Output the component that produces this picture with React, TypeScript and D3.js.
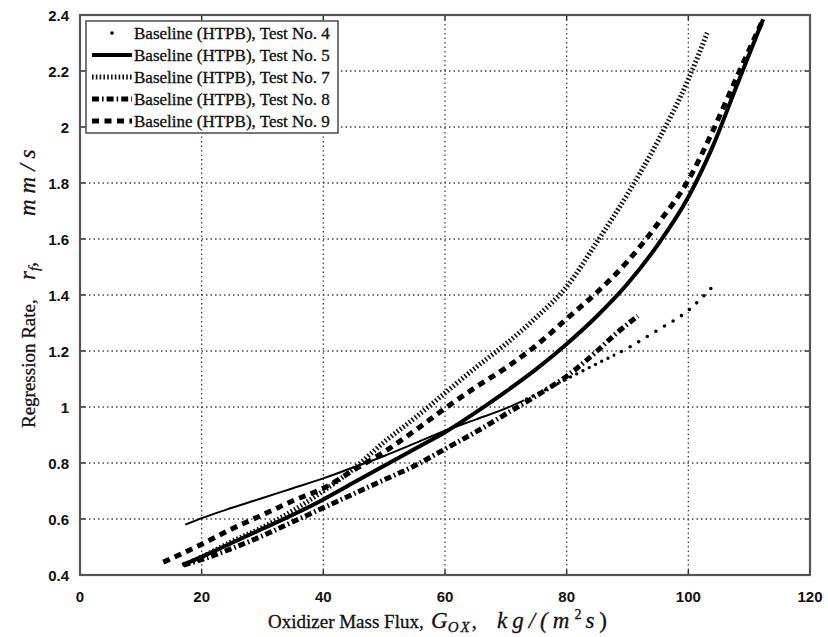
import React from "react";
import * as d3 from "d3";

// ---- data ----
const xTicks = [0, 20, 40, 60, 80, 100, 120];
const yTicks = [0.4, 0.6, 0.8, 1, 1.2, 1.4, 1.6, 1.8, 2, 2.2, 2.4];
const yTickLabels = ["0.4", "0.6", "0.8", "1", "1.2", "1.4", "1.6", "1.8", "2", "2.2", "2.4"];

const legendLabels = [
  "Baseline (HTPB), Test No. 4",
  "Baseline (HTPB), Test No. 5",
  "Baseline (HTPB), Test No. 7",
  "Baseline (HTPB), Test No. 8",
  "Baseline (HTPB), Test No. 9",
];

const test4G = [17.3, 20, 25, 30, 35, 40, 45, 50, 55, 60, 65, 70, 75, 80, 85, 90, 95, 100, 104];
const test4R = [0.58, 0.603, 0.64, 0.675, 0.71, 0.745, 0.785, 0.825, 0.87, 0.915, 0.955, 0.995, 1.045, 1.1, 1.155, 1.21, 1.275, 1.345, 1.43];

const test5G = [16.8, 20, 25, 30, 35, 40, 45, 50, 55, 60, 65, 70, 75, 80, 85, 90, 95, 100, 104, 108, 112.3];
const test5R = [0.436, 0.465, 0.515, 0.565, 0.615, 0.67, 0.73, 0.79, 0.85, 0.91, 0.98, 1.055, 1.135, 1.225, 1.325, 1.44, 1.58, 1.75, 1.93, 2.15, 2.385];

const test7G = [18.5, 20, 25, 30, 35, 40, 45, 50, 55, 60, 65, 70, 75, 80, 85, 90, 95, 100, 103.1];
const test7R = [0.45, 0.465, 0.52, 0.57, 0.63, 0.7, 0.78, 0.875, 0.96, 1.05, 1.14, 1.225, 1.32, 1.43, 1.59, 1.76, 1.95, 2.17, 2.336];

const test8G = [17, 20, 25, 30, 35, 40, 45, 50, 55, 60, 65, 70, 75, 80, 85, 88, 91.7];
const test8R = [0.435, 0.455, 0.495, 0.54, 0.59, 0.64, 0.69, 0.74, 0.79, 0.85, 0.91, 0.975, 1.04, 1.11, 1.2, 1.26, 1.325];

const test9G = [13.7, 20, 25, 30, 35, 40, 45, 50, 55, 60, 65, 70, 75, 80, 85, 90, 95, 100, 104, 108, 112.3];
const test9R = [0.446, 0.51, 0.565, 0.615, 0.665, 0.71, 0.775, 0.84, 0.915, 0.995, 1.07, 1.14, 1.22, 1.315, 1.41, 1.52, 1.655, 1.81, 1.985, 2.18, 2.385];

// ---- layout ----
const W = 828;
const H = 637;
const x = d3.scaleLinear().domain([0, 120]).range([80, 810]);
const y = d3.scaleLinear().domain([0.4, 2.4]).range([575, 15]);

const zip = (g: number[], r: number[]) => g.map((v, i) => [v, r[i]] as [number, number]);
const line = d3
  .line<[number, number]>()
  .x((d) => x(d[0]))
  .y((d) => y(d[1]))
  .curve(d3.curveMonotoneX);

const styles = {
  t5: { stroke: "#000", strokeWidth: 4, dash: undefined as string | undefined },
  t7: { stroke: "#111", strokeWidth: 5, dash: "1.6 2.2" },
  t8: { stroke: "#000", strokeWidth: 5, dash: "7 3 1.6 3" },
  t9: { stroke: "#000", strokeWidth: 5, dash: "7 5.5" },
};

export default function App() {
  const d4 = line(zip(test4G, test4R)) || "";
  const d5 = line(zip(test5G, test5R)) || "";
  const d7 = line(zip(test7G, test7R)) || "";
  const d8 = line(zip(test8G, test8R)) || "";
  const d9 = line(zip(test9G, test9R)) || "";

  const serif = "'Liberation Serif', 'Times New Roman', serif";
  const sans = "'Liberation Sans', Arial, sans-serif";
  const x0 = x(0), x1 = x(120), y0 = y(0.4), y1 = y(2.4);

  const legendRows = [33, 55, 77, 99, 121];
  const sample = (i: number) => {
    const yy = legendRows[i];
    if (i === 0) return <circle cx={112} cy={yy} r={1.8} fill="#000" />;
    const s = [styles.t5, styles.t7, styles.t8, styles.t9][i - 1];
    return (
      <line x1={92} x2={132} y1={yy} y2={yy} stroke={s.stroke} strokeWidth={s.strokeWidth}
        strokeDasharray={s.dash} />
    );
  };

  return (
    <svg width={W} height={H} style={{ position: "absolute", left: 0, top: 0, background: "#fff" }}>
      <defs>
        <clipPath id="plot"><rect x={x0} y={y1} width={x1 - x0} height={y0 - y1} /></clipPath>
        <clipPath id="c4a"><rect x={0} y={0} width={x(73)} height={H} /></clipPath>
        <clipPath id="c4b"><rect x={x(73)} y={0} width={x(88) - x(73)} height={H} /></clipPath>
        <clipPath id="c4c"><rect x={x(88)} y={0} width={W} height={H} /></clipPath>
      </defs>
      <rect x={0} y={0} width={W} height={H} fill="#fff" />

      {/* grid */}
      <g stroke="#444" strokeWidth={1.3} strokeDasharray="1.5 3">
        {xTicks.slice(1, -1).map((t) => (
          <line key={"gx" + t} x1={x(t)} x2={x(t)} y1={y1} y2={y0} />
        ))}
        {yTicks.slice(1, -1).map((t) => (
          <line key={"gy" + t} x1={x0} x2={x1} y1={y(t)} y2={y(t)} />
        ))}
      </g>

      {/* curves */}
      <g fill="none" clipPath="url(#plot)">
        <path d={d4} stroke="#000" strokeWidth={2} clipPath="url(#c4a)" />
        <g clipPath="url(#c4b)">
          <path d={d4} stroke="#000" strokeWidth={3.4} strokeDasharray="0 7" strokeLinecap="round" />
        </g>
        <g clipPath="url(#c4c)">
          <path d={d4} stroke="#000" strokeWidth={3.6} strokeDasharray="0 10" strokeLinecap="round" />
        </g>
        <path d={d5} stroke={styles.t5.stroke} strokeWidth={styles.t5.strokeWidth} />
        <path d={d7} stroke={styles.t7.stroke} strokeWidth={styles.t7.strokeWidth} strokeDasharray={styles.t7.dash} />
        <path d={d8} stroke={styles.t8.stroke} strokeWidth={styles.t8.strokeWidth} strokeDasharray={styles.t8.dash} />
        <path d={d9} stroke={styles.t9.stroke} strokeWidth={styles.t9.strokeWidth} strokeDasharray={styles.t9.dash} />
      </g>

      {/* ticks */}
      <g stroke="#333" strokeWidth={1.5}>
        {xTicks.map((t) => (
          <g key={"tx" + t}>
            <line x1={x(t)} x2={x(t)} y1={y0} y2={y0 - 5} />
            <line x1={x(t)} x2={x(t)} y1={y1} y2={y1 + 5} />
          </g>
        ))}
        {yTicks.map((t) => (
          <g key={"ty" + t}>
            <line x1={x0} x2={x0 + 5} y1={y(t)} y2={y(t)} />
            <line x1={x1} x2={x1 - 5} y1={y(t)} y2={y(t)} />
          </g>
        ))}
      </g>

      {/* frame */}
      <rect x={x0} y={y1} width={x1 - x0} height={y0 - y1} fill="none" stroke="#555" strokeWidth={2.2} />

      {/* tick labels */}
      <g fontFamily={sans} fontSize={15} fontWeight="bold" fill="#111">
        {xTicks.map((t) => (
          <text key={"lx" + t} x={x(t)} y={602} textAnchor="middle">{t}</text>
        ))}
        {yTicks.map((t, i) => (
          <text key={"ly" + t} x={69} y={y(t) + 5.5} textAnchor="end">{yTickLabels[i]}</text>
        ))}
      </g>

      {/* axis titles */}
      <g fontFamily={serif} fill="#111" stroke="#111" strokeWidth={0.3}>
        <text x={268} y={628} fontSize={19}>
          <tspan>Oxidizer Mass Flux, </tspan>
          <tspan x={431} fontStyle="italic" fontSize={23}>G</tspan>
          <tspan fontStyle="italic" fontSize={15} dy={4} letterSpacing={2}>OX</tspan>
          <tspan dy={-4} fontSize={20}>,</tspan>
          <tspan x={497} fontStyle="italic" fontSize={23} letterSpacing={5}>kg/(m</tspan>
          <tspan fontSize={14} dy={-9} letterSpacing={4}>2</tspan>
          <tspan fontStyle="italic" fontSize={23} dy={9} letterSpacing={5}>s</tspan>
          <tspan fontSize={23}>)</tspan>
        </text>
        <text transform="translate(35,428) rotate(-90)" fontSize={19}>
          <tspan>Regression Rate, </tspan>
          <tspan x={148} fontStyle="italic" fontSize={23}>r</tspan>
          <tspan fontStyle="italic" fontSize={15} dy={4}>f</tspan>
          <tspan dy={-4} fontSize={20}>,</tspan>
          <tspan x={212} fontStyle="italic" fontSize={23} letterSpacing={6}>mm/s</tspan>
        </text>
      </g>

      {/* legend */}
      <rect x={86} y={21} width={252} height={112} fill="#fff" stroke="#555" strokeWidth={1.6} />
      {legendLabels.map((l, i) => (
        <g key={l}>
          {sample(i)}
          <text x={134} y={legendRows[i] + 5.5} fontFamily={serif} fontSize={17} fill="#111"
            stroke="#111" strokeWidth={0.35}>{l}</text>
        </g>
      ))}
    </svg>
  );
}
